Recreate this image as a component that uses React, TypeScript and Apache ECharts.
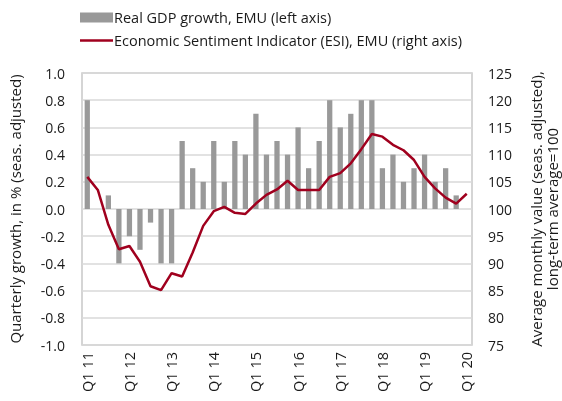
import React, { useEffect, useRef } from "react";
import * as echarts from "echarts";

const quarters: string[] = [];
const yearsShort = ["11", "12", "13", "14", "15", "16", "17", "18", "19", "20"];
for (const y of yearsShort) {
  for (const q of ["Q1", "Q2", "Q3", "Q4"]) {
    if (y === "20" && q !== "Q1") continue;
    quarters.push(`${q} ${y}`);
  }
}

const gdpGrowth: (number | null)[] = [
  0.8, 0.0, 0.1, -0.4,
  -0.2, -0.3, -0.1, -0.4,
  -0.4, 0.5, 0.3, 0.2,
  0.5, 0.2, 0.5, 0.4,
  0.7, 0.4, 0.5, 0.4,
  0.6, 0.3, 0.5, 0.8,
  0.6, 0.7, 0.8, 0.8,
  0.3, 0.4, 0.2, 0.3,
  0.4, 0.2, 0.3, 0.1,
  null,
];

const esi: number[] = [
  105.9, 103.5, 97.1, 92.6,
  93.2, 90.3, 85.8, 85.1,
  88.2, 87.6, 92.0, 96.9,
  99.6, 100.4, 99.3, 99.1,
  101.0, 102.6, 103.6, 105.2,
  103.5, 103.5, 103.5, 105.9,
  106.6, 108.4, 111.0, 113.8,
  113.3, 111.8, 110.8, 109.0,
  105.9, 103.8, 102.1, 101.0,
  102.8,
];

const leftTicks = { min: -1.0, max: 1.0, interval: 0.2 };
const rightTicks = { min: 75, max: 125, interval: 5 };

const FONT = "'Open Sans', 'Noto Sans', sans-serif";
const TXT = "#1a1a1a";

export default function App() {
  const ref = useRef<HTMLDivElement>(null);
  useEffect(() => {
    if (!ref.current) return;
    const chart = echarts.init(ref.current, null, { renderer: "svg", width: 562, height: 401 });
    chart.setOption({
      animation: false,
      textStyle: { fontFamily: FONT, color: TXT },
      legend: {
        orient: "vertical",
        left: 75,
        top: 5,
        itemGap: 8,
        itemWidth: 33,
        itemHeight: 10,
        textStyle: { fontFamily: FONT, fontSize: 14.5, color: TXT, padding: [0, 0, 0, -4] },
        data: [
          { name: "Real GDP growth, EMU (left axis)", icon: "rect" },
          {
            name: "Economic Sentiment Indicator (ESI), EMU (right axis)",
            icon: "path://M0,0 L33,0 L33,2.5 L0,2.5 Z",
          },
        ],
      },
      grid: {
        left: 82,
        right: 90,
        top: 73,
        bottom: 56,
        show: true,
        borderColor: "#c8c8c8",
        borderWidth: 1.5,
        containLabel: false,
        outerBoundsMode: "none",
      },
      xAxis: {
        type: "category",
        data: quarters,
        axisLine: { show: false },
        axisTick: { show: false },
        axisLabel: {
          interval: 3,
          rotate: 90,
          fontSize: 14.5,
          color: TXT,
          fontFamily: FONT,
          margin: 7,
        },
      },
      yAxis: [
        {
          type: "value",
          ...leftTicks,
          position: "left",
          axisLine: { show: false },
          axisTick: { show: false },
          splitLine: { lineStyle: { color: "#d9d9d9", width: 1.5 } },
          axisLabel: {
            fontSize: 14,
            color: TXT,
            fontFamily: FONT,
            margin: 17,
            formatter: (v: number) => v.toFixed(1),
          },
          name: "Quarterly growth, in % (seas. adjusted)",
          nameLocation: "middle",
          nameRotate: 90,
          nameGap: 60,
          nameTextStyle: { fontSize: 15, color: TXT, fontFamily: FONT },
        },
        {
          type: "value",
          ...rightTicks,
          position: "right",
          axisLine: { show: false },
          axisTick: { show: false },
          splitLine: { show: false },
          axisLabel: { fontSize: 14, color: TXT, fontFamily: FONT, margin: 16 },
          name: "Average monthly value (seas. adjusted),\nlong-term average=100",
          nameLocation: "middle",
          nameRotate: 90,
          nameGap: 56,
          nameTextStyle: { fontSize: 15, color: TXT, fontFamily: FONT, lineHeight: 16 },
        },
      ],
      series: [
        {
          name: "Real GDP growth, EMU (left axis)",
          type: "bar",
          yAxisIndex: 0,
          data: gdpGrowth,
          barWidth: "50%",
          itemStyle: { color: "#999999" },
        },
        {
          name: "Economic Sentiment Indicator (ESI), EMU (right axis)",
          type: "line",
          yAxisIndex: 1,
          data: esi,
          symbol: "none",
          lineStyle: { color: "#a0001e", width: 2.5 },
          itemStyle: { color: "#a0001e" },
        },
      ],
    });
    return () => chart.dispose();
  }, []);
  return (
    <div
      ref={ref}
      style={{ position: "fixed", left: 0, top: 0, width: 562, height: 401 }}
    />
  );
}
